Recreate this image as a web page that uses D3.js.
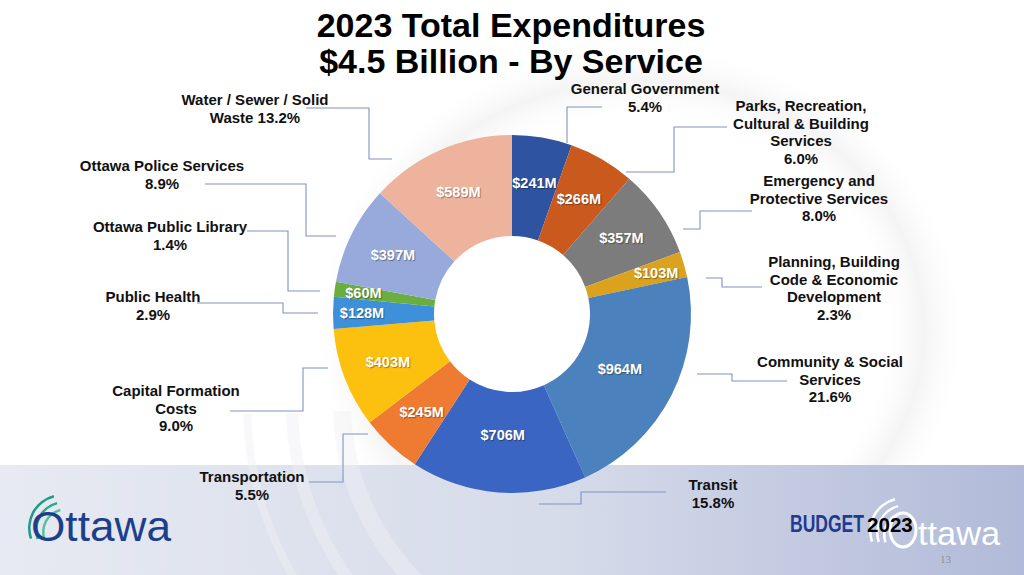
<!DOCTYPE html>
<html lang="en">
<head>
<meta charset="utf-8">
<title>2023 Total Expenditures - By Service</title>
<script src="https://cdnjs.cloudflare.com/ajax/libs/d3/7.8.5/d3.min.js"></script>
<style>
  html, body { margin: 0; padding: 0; background: #fff; }
  svg { display: block; font-family: "Liberation Sans", Arial, sans-serif; }
  .value { fill: #fff; font-weight: bold; font-size: 14.5px; text-shadow: 1px 1px 1px rgba(0,0,0,0.35); }
  .label { fill: #111; font-weight: bold; font-size: 15px; }
  .leader { fill: none; stroke: #7f93c4; stroke-width: 1.1px; }
</style>
</head>
<body>
<div id="chart"></div>
<script>
// services, clockwise from 12 o'clock
var services = [
  ["General Government"],
  ["Parks, Recreation,", "Cultural & Building", "Services"],
  ["Emergency and", "Protective Services"],
  ["Planning, Building", "Code & Economic", "Development"],
  ["Community & Social", "Services"],
  ["Transit"],
  ["Transportation"],
  ["Capital Formation", "Costs"],
  ["Public Health"],
  ["Ottawa Public Library"],
  ["Ottawa Police Services"],
  ["Water / Sewer / Solid", "Waste"]
];
var amounts = [241, 266, 357, 103, 964, 706, 245, 403, 128, 60, 397, 589];   // $M
var percents = ["5.4%", "6.0%", "8.0%", "2.3%", "21.6%", "15.8%", "5.5%", "9.0%", "2.9%", "1.4%", "8.9%", "13.2%"];
var colors = ["#2d53a1", "#c9591d", "#7c7c7c", "#dba31d", "#4b81bd", "#3a65c2",
              "#ee7b31", "#fcc00e", "#3f90da", "#69ae3e", "#98aadb", "#eeb39d"];

// label layout: text centre x, first line y, leader polyline (text side -> slice)
var layout = [
  { x: 645, y: 89,  lead: [[602,107],[567,107],[567,143]] },
  { x: 801, y: 106, lead: [[727,127],[674,127],[674,172],[626,172]] },
  { x: 819, y: 181, lead: [[752,211],[700,211],[700,229],[683,229]] },
  { x: 834, y: 262, lead: [[762,287],[722,287],[722,278],[706,278]] },
  { x: 830, y: 362, lead: [[787,381],[732,381],[732,374],[697,374]] },
  { x: 713, y: 485, lead: [[666,492],[581,492],[581,504],[539,504]] },
  { x: 252, y: 477, lead: [[309,482],[343,482],[343,434],[368,434]] },
  { x: 176, y: 391, lead: [[230,411],[303,411],[303,368],[328,368]] },
  { x: 153, y: 297, lead: [[197,303],[283,303],[283,313],[318,313]] },
  { x: 170, y: 227, lead: [[247,231],[288,231],[288,291],[320,291]] },
  { x: 162, y: 166, lead: [[205,184],[306,184],[306,236],[336,236]] },
  { x: 255, y: 100, lead: [[306,108],[369,108],[369,159],[392,159]] }
];

var W = 1024, H = 575;
var cx = 512, cy = 314, rOuter = 179, rInner = 78;

var svg = d3.select("#chart").append("svg")
  .attr("width", W).attr("height", H);

var defs = svg.append("defs");

var band = defs.append("linearGradient").attr("id", "band")
  .attr("x1", "0%").attr("x2", "100%");
band.append("stop").attr("offset", "0%").attr("stop-color", "#e7eaf2");
band.append("stop").attr("offset", "55%").attr("stop-color", "#d6dbea");
band.append("stop").attr("offset", "100%").attr("stop-color", "#b1bad8");

var swoosh = defs.append("radialGradient").attr("id", "swoosh")
  .attr("cx", "50%").attr("cy", "50%").attr("r", "50%");
swoosh.append("stop").attr("offset", "72%").attr("stop-color", "#ffffff").attr("stop-opacity", 0);
swoosh.append("stop").attr("offset", "86%").attr("stop-color", "#e9e9e9").attr("stop-opacity", 0.5);
swoosh.append("stop").attr("offset", "100%").attr("stop-color", "#ffffff").attr("stop-opacity", 0);

// background
svg.append("rect").attr("width", W).attr("height", H).attr("fill", "#fff");
svg.append("ellipse").attr("cx", 640).attr("cy", 330).attr("rx", 330).attr("ry", 290)
  .attr("fill", "url(#swoosh)");
svg.append("rect").attr("x", 0).attr("y", 465).attr("width", W).attr("height", H - 465)
  .attr("fill", "url(#band)");

var bgArcs = svg.append("g").attr("fill", "none").attr("opacity", 0.45);
[[250, 18], [300, 12], [345, 8]].forEach(function (d) {
  bgArcs.append("path")
    .attr("d", d3.arc().innerRadius(d[0]).outerRadius(d[0]).startAngle(-2.6).endAngle(-1.6)())
    .attr("transform", "translate(" + (cx + 80) + "," + (cy + 90) + ")")
    .attr("stroke-width", d[1]).attr("stroke", "#f1f1f4");
});

// title
var title = svg.append("text").attr("x", 511).attr("text-anchor", "middle")
  .attr("font-weight", "bold").attr("font-size", 34).attr("fill", "#000");
title.append("tspan").attr("x", 511).attr("y", 37).text("2023 Total Expenditures");
title.append("tspan").attr("x", 511).attr("y", 73).text("$4.5 Billion - By Service");

// donut
var pie = d3.pie().sort(null).value(function (d) { return d; });
var arcs = pie(amounts);
var arc = d3.arc().innerRadius(rInner).outerRadius(rOuter);

var g = svg.append("g").attr("transform", "translate(" + cx + "," + cy + ")");

g.selectAll("path.slice").data(arcs).enter().append("path")
  .attr("class", "slice")
  .attr("d", arc)
  .attr("fill", function (d, i) { return colors[i]; });

function labelRadius(d) {
  var span = d.endAngle - d.startAngle;
  if (span < 0.2) return 150;
  if (span > 0.9) return 121;
  return 133;
}

g.selectAll("text.value").data(arcs).enter().append("text")
  .attr("class", "value")
  .attr("text-anchor", "middle")
  .attr("dy", "0.35em")
  .attr("transform", function (d) {
    var a = (d.startAngle + d.endAngle) / 2, r = labelRadius(d);
    return "translate(" + (r * Math.sin(a)) + "," + (-r * Math.cos(a)) + ")";
  })
  .text(function (d) { return "$" + d.data + "M"; });

// leader lines
var line = d3.line();
svg.selectAll("path.leader").data(layout).enter().append("path")
  .attr("class", "leader")
  .attr("d", function (d) { return line(d.lead); });

// category labels
svg.selectAll("text.label").data(services).enter().append("text")
  .attr("class", "label")
  .attr("text-anchor", "middle")
  .each(function (lines, i) {
    var t = d3.select(this), L = layout[i];
    var all = lines.slice();
    if (i === 11) all[all.length - 1] += " " + percents[i];   // "Waste 13.2%"
    else all.push(percents[i]);
    all.forEach(function (s, k) {
      t.append("tspan").attr("x", L.x).attr("y", L.y + 5 + k * 17.6).text(s);
    });
  });

// Ottawa logo (left)
var logoL = svg.append("g");
[[34, 0], [29, 1], [24, 2]].forEach(function (d) {
  logoL.append("path")
    .attr("d", d3.arc().innerRadius(d[0] - 2.5).outerRadius(d[0]).startAngle(-1.9).endAngle(-0.25)())
    .attr("transform", "translate(" + (62 + d[1] * 2) + "," + (528 + d[1] * 2) + ")")
    .attr("fill", ["#1f9a86", "#2ea88a", "#5bbf9a"][d[1]]);
});
logoL.append("text").attr("x", 31).attr("y", 541)
  .attr("font-family", "'Liberation Sans Narrow', 'Liberation Sans', sans-serif")
  .attr("font-size", 42).attr("fill", "#1c3f8c")
  .attr("textLength", 140).attr("lengthAdjust", "spacingAndGlyphs")
  .text("Ottawa");

// Budget 2023 logo (right)
var logoR = svg.append("g");
[[34, 0], [29, 1], [24, 2]].forEach(function (d) {
  logoR.append("path")
    .attr("d", d3.arc().innerRadius(d[0] - 2.5).outerRadius(d[0]).startAngle(-1.9).endAngle(-0.25)())
    .attr("transform", "translate(" + (903 + d[1] * 2) + "," + (531 + d[1] * 2) + ")")
    .attr("fill", "#ffffff");
});
// the swoosh "O" of the wordmark
logoR.append("ellipse").attr("cx", 903).attr("cy", 530).attr("rx", 13).attr("ry", 17)
  .attr("fill", "none").attr("stroke", "#ffffff").attr("stroke-width", 3);
logoR.append("text").attr("x", 918).attr("y", 545)
  .attr("font-family", "'Liberation Sans Narrow', 'Liberation Sans', sans-serif")
  .attr("font-size", 34).attr("fill", "#ffffff")
  .attr("textLength", 82).attr("lengthAdjust", "spacingAndGlyphs")
  .text("ttawa");
logoR.append("text")
  .attr("transform", "translate(790,532) scale(0.73,1)")
  .attr("font-weight", "bold").attr("font-size", 24).attr("fill", "#1f3a8f")
  .text("BUDGET");
logoR.append("text")
  .attr("transform", "translate(867,532) scale(0.98,1)")
  .attr("font-weight", "bold").attr("font-size", 21).attr("fill", "#000")
  .text("2023");
svg.append("text").attr("x", 940).attr("y", 563)
  .attr("font-family", "'Liberation Serif', serif").attr("font-size", 11).attr("fill", "#8b8f9c")
  .text("13");
</script>
</body>
</html>
